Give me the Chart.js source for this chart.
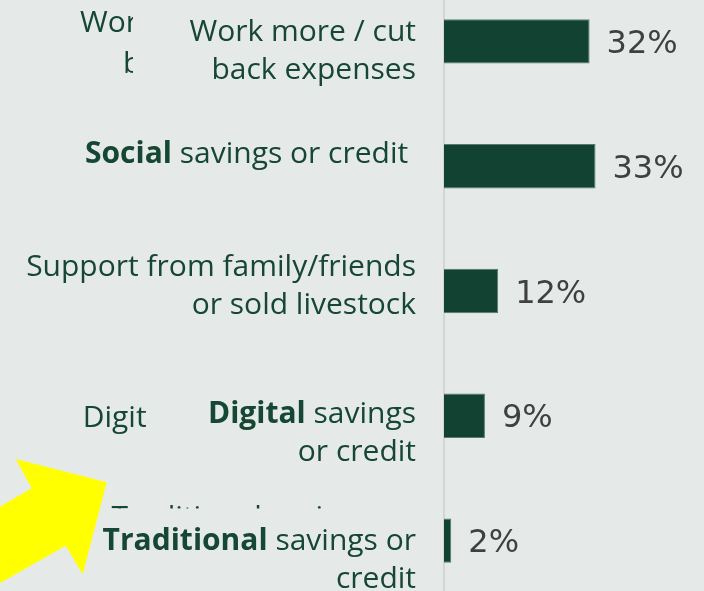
<!DOCTYPE html>
<html>
<head>
<meta charset="utf-8">
<script src="https://cdn.jsdelivr.net/npm/chart.js@4.4.1/dist/chart.umd.min.js"></script>
<style>
  html, body { margin: 0; padding: 0; background: #e5eae8; }
  #wrap { position: relative; width: 704px; height: 591px; overflow: hidden; }
  #wrap canvas { position: absolute; left: 0; top: -21px; }
</style>
</head>
<body>
<div id="wrap"><canvas id="copingChart" width="704" height="624" style="width:704px;height:624px"></canvas></div>
<script>
// Categories (label lines) and the word of each label that is set in bold
const categories = ["Work more", "Social", "Support", "Digital", "Traditional"];
const labelLines = [
    ["Work more / cut", "back expenses"],
    ["Social savings or credit "],
    ["Support from family/friends", "or sold livestock"],
    ["Digital savings", "or credit"],
    ["Traditional savings or", "credit"],
];
const boldWords = ["", "Social", "", "Digital", "Traditional"];

// Share of respondents (%) and the printed value labels
const shareValues = [32.0, 33.3, 11.9, 9.0, 1.6];
const shareLabels = ["32%", "33%", "12%", "9%", "2%"];

// Half-hidden text left over from the slide transition
const ghostWork = ["Work more / cut", "back expenses"];
const ghostDigital = ["Digital savings"];
const ghostTraditional = ["Traditional savings or"];

// Colours
const colors = {
    bar: "#114232",
    barEdge: "#587a6d",
    label: "#164634",
    value: "#404040",
    axis: "#d2d7d5",
    arrow: "#ffff00",
};

const OFFSET_Y = 21; // canvas sits 21px above the visible page
const labelFont = '"Open Sans", "Noto Sans", sans-serif';
const labelSize = 30;
const lineHeight = 38.3;
// first-baseline shift of each category label, relative to its bar centre
const labelShift = [-0.8, -3.6, -15, 7.1, 9.2];

const drawRunsRight = (ctx, line, bold, xRight, y) => {
    const runs = [];
    if (bold && line.startsWith(bold)) {
        runs.push({ text: bold, bold: true });
        runs.push({ text: line.slice(bold.length), bold: false });
    } else {
        runs.push({ text: line, bold: false });
    }
    let total = 0;
    runs.forEach((r) => {
        ctx.font = (r.bold ? "bold " : "") + labelSize + "px " + labelFont;
        r.w = ctx.measureText(r.text).width;
        total += r.w;
    });
    let x = xRight - total;
    runs.forEach((r) => {
        ctx.font = (r.bold ? "bold " : "") + labelSize + "px " + labelFont;
        ctx.fillText(r.text, x, y);
        x += r.w;
    });
};

const decorPlugin = {
    id: "decor",
    afterDraw(chart) {
        const ctx = chart.ctx;
        const meta = chart.getDatasetMeta(0);
        const yScale = chart.scales.y;

        ctx.save();
        ctx.textAlign = "left";
        ctx.textBaseline = "alphabetic";

        // value labels right of the bars
        ctx.fillStyle = colors.value;
        ctx.font = '32px "DejaVu Sans", Verdana, sans-serif';
        meta.data.forEach((bar, i) => {
            ctx.fillText(shareLabels[i], bar.x + 17, bar.y + 11.5);
        });

        // category labels with bold lead word
        ctx.fillStyle = colors.label;
        labelLines.forEach((lines, i) => {
            const yc = yScale.getPixelForValue(i);
            lines.forEach((line, k) => {
                drawRunsRight(ctx, line, boldWords[i], 416, yc + labelShift[i] + k * lineHeight);
            });
        });

        // clipped ghost text (page coordinates)
        ctx.translate(0, OFFSET_Y);
        ctx.font = labelSize + "px " + labelFont;
        ctx.save();
        ctx.beginPath();
        ctx.rect(0, 0, 133, 100);
        ctx.clip();
        ctx.fillText(ghostWork[0], 80, 31.7);
        ctx.fillText(ghostWork[1], 123, 73.3);
        ctx.restore();

        ctx.save();
        ctx.beginPath();
        ctx.rect(0, 380, 148, 80);
        ctx.clip();
        ctx.fillText(ghostDigital[0], 82.7, 426.7);
        ctx.restore();

        ctx.save();
        ctx.beginPath();
        ctx.rect(100, 495, 330, 13.5);
        ctx.clip();
        ctx.fillText(ghostTraditional[0], 111.5, 527);
        ctx.restore();

        // yellow pointer arrow
        ctx.fillStyle = colors.arrow;
        ctx.beginPath();
        ctx.moveTo(0, 506.7);
        ctx.lineTo(31.7, 488.3);
        ctx.lineTo(15.7, 459);
        ctx.lineTo(106.7, 482.3);
        ctx.lineTo(82.7, 574.3);
        ctx.lineTo(65.7, 545.7);
        ctx.lineTo(0, 583);
        ctx.closePath();
        ctx.fill();

        ctx.restore();
    },
};

new Chart(document.getElementById("copingChart"), {
    type: "bar",
    data: {
        labels: categories,
        datasets: [
            {
                data: shareValues,
                backgroundColor: colors.bar,
                borderColor: colors.barEdge,
                borderWidth: 1,
                categoryPercentage: 1,
                barPercentage: 0.356,
            },
        ],
    },
    options: {
        indexAxis: "y",
        responsive: false,
        animation: false,
        layout: {
            padding: { left: 436, right: 78, top: 0, bottom: 0 },
        },
        plugins: {
            legend: { display: false },
            tooltip: { enabled: false },
        },
        scales: {
            x: {
                display: false,
                min: 0,
                max: 40,
            },
            y: {
                ticks: { display: false },
                grid: { display: false },
                border: { display: true, color: colors.axis, width: 2 },
            },
        },
    },
    plugins: [decorPlugin],
});
</script>
</body>
</html>
